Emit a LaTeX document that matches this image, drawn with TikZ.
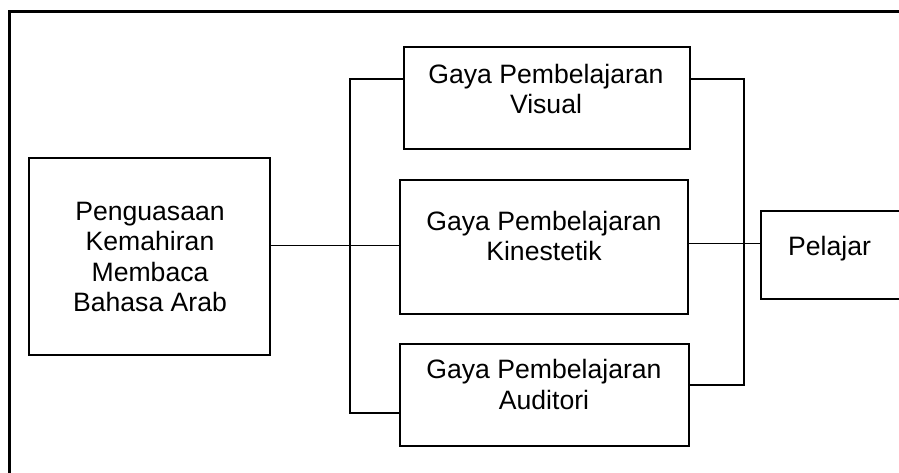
\documentclass[tikz,border=0pt]{standalone}
\usepackage{fontspec}
\setmainfont{Liberation Sans}
\begin{document}
\begin{tikzpicture}[x=1pt,y=-1pt,
  box/.style={draw, line width=2.2pt, inner sep=0pt, rectangle},
  bracket/.style={line width=2.2pt},
  thin/.style={line width=1pt},
  lbl/.style={inner sep=0pt, align=center, anchor=base, font=\fontsize{26.6}{30.5}\selectfont}]
\useasboundingbox (0,0) rectangle (899,472);
\clip (0,0) rectangle (899,472);
\draw[line width=3pt] (9,11) rectangle (910,485);
\node[box, minimum width=241pt, minimum height=197pt] (left) at (149.5,256.5) {};
\node[box, minimum width=286pt, minimum height=102pt] (vis) at (547,98) {};
\node[box, minimum width=288pt, minimum height=134pt] (kin) at (544,247) {};
\node[box, minimum width=289pt, minimum height=102pt] (aud) at (544.5,395) {};
\node[box, minimum width=159pt, minimum height=88pt] (pel) at (840.5,255) {};
\node[lbl] (tleft) at (150,311.5) {Penguasaan\\Kemahiran\\Membaca\\Bahasa Arab};
\node[lbl] (tvis) at (546,113.5) {Gaya Pembelajaran\\Visual};
\node[lbl] (tkin) at (544,260.5) {Gaya Pembelajaran\\Kinestetik};
\node[lbl] (taud) at (544,409) {Gaya Pembelajaran\\Auditori};
\node[lbl, anchor=base west] (tpel) at (788,255) {Pelajar};
\coordinate (lb1) at (350,79);
\coordinate (lb2) at (350,413);
\coordinate (rb1) at (744,79);
\coordinate (rb2) at (744,385);
\coordinate (m1) at (0,245);
\coordinate (m2) at (0,243);
\draw[bracket] (vis.west |- lb1) -- (lb1) -- (lb2) -- (aud.west |- lb2);
\draw[bracket] (vis.east |- rb1) -- (rb1) -- (rb2) -- (aud.east |- rb2);
\draw[thin] (left.east |- m1) -- (kin.west |- m1);
\draw[thin] (kin.east |- m2) -- (pel.west |- m2);
\end{tikzpicture}
\end{document}
